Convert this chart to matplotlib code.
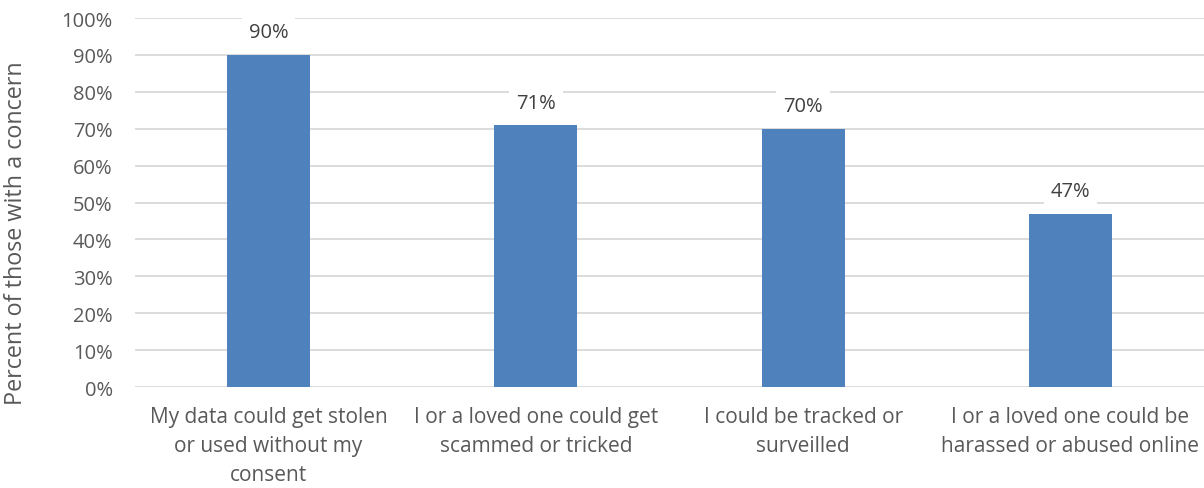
import numpy as np
import matplotlib.pyplot as plt

categories = [
    "My data could get stolen\nor used without my\nconsent",
    "I or a loved one could get\nscammed or tricked",
    "I could be tracked or\nsurveilled",
    "I or a loved one could be\nharassed or abused online",
]
values = [90, 71, 70, 47]
yticks = list(range(0, 101, 10))

text_color = "#595959"
bar_color = "#4F81BD"
grid_color = "#D9D9D9"

plt.rcParams['font.family'] = ['Open Sans', 'DejaVu Sans']

fig = plt.figure(figsize=(12.04, 4.89), dpi=100)
ax = fig.add_axes([0.1121, 0.2065, 0.8879, 0.7546])

x = np.arange(len(categories))
ax.bar(x, values, width=0.31, color=bar_color, zorder=2)

# value labels sit on a white box that hides the gridline behind them
for xi, v in zip(x, values):
    ax.annotate(f"{v}%", (xi, v), xytext=(0, 9), textcoords="offset points",
                ha="center", va="bottom", fontsize=14.5, color="#404040", zorder=3,
                bbox=dict(boxstyle="square,pad=0.35", fc="white", ec="none"))

ax.set_xlim(-0.5, len(categories) - 0.5)
ax.set_ylim(0, 100)
ax.set_yticks(yticks)
ax.set_yticklabels([f"{t}%" for t in yticks], fontsize=14.5, color=text_color)
ax.set_xticks(x)
ax.set_xticklabels(categories, fontsize=15, color=text_color, linespacing=1.5)
ax.tick_params(axis="both", length=0)
ax.tick_params(axis="y", pad=16)
ax.tick_params(axis="x", pad=14)

ax.grid(axis="y", color=grid_color, linewidth=1.3, zorder=0)
ax.set_axisbelow(True)
for s in ax.spines.values():
    s.set_visible(False)

ax.set_ylabel("Percent of those with a concern", fontsize=16.8, color=text_color)
ax.yaxis.set_label_coords(-0.100, 0.42)

fig.savefig("out.png", dpi=100)
